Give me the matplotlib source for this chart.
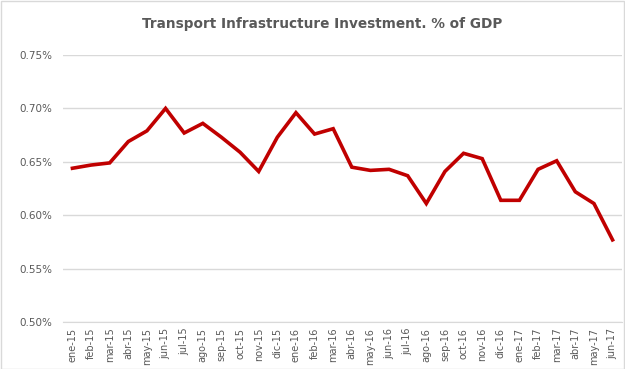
import matplotlib
matplotlib.use("Agg")
import matplotlib.pyplot as plt
from matplotlib.ticker import FuncFormatter

# datos
meses = ["ene-15", "feb-15", "mar-15", "abr-15", "may-15", "jun-15", "jul-15", "ago-15",
         "sep-15", "oct-15", "nov-15", "dic-15", "ene-16", "feb-16", "mar-16", "abr-16",
         "may-16", "jun-16", "jul-16", "ago-16", "sep-16", "oct-16", "nov-16", "dic-16",
         "ene-17", "feb-17", "mar-17", "abr-17", "may-17", "jun-17"]
inversion = [0.644, 0.647, 0.649, 0.669, 0.679, 0.700, 0.677, 0.686,
             0.673, 0.659, 0.641, 0.673, 0.696, 0.676, 0.681, 0.645,
             0.642, 0.643, 0.637, 0.611, 0.641, 0.658, 0.653, 0.614,
             0.614, 0.643, 0.651, 0.622, 0.611, 0.577]
y_ticks = [0.50, 0.55, 0.60, 0.65, 0.70, 0.75]

fig = plt.figure(figsize=(6.25, 3.69), dpi=100)
fig.patch.set_facecolor("white")
ax = fig.add_axes([0.101, 0.127, 0.894, 0.724])

x = list(range(len(meses)))
ax.plot(x, inversion, color="#C00000", linewidth=2.6, solid_joinstyle="miter")

ax.set_xlim(-0.5, len(meses) - 0.5)
ax.set_ylim(0.50, 0.75)
ax.set_yticks(y_ticks)
ax.yaxis.set_major_formatter(FuncFormatter(lambda v, p: f"{v:.2f}%"))
ax.set_xticks(x)
ax.set_xticklabels(meses, rotation=90)

ax.grid(axis="y", color="#D9D9D9", linewidth=1)
ax.set_axisbelow(True)
for s in ["top", "right", "left"]:
    ax.spines[s].set_visible(False)
ax.spines["bottom"].set_color("#D9D9D9")
ax.tick_params(axis="y", length=0, labelsize=7.5, labelcolor="#595959", pad=8)
ax.tick_params(axis="x", length=0, labelsize=7, labelcolor="#595959", pad=4)

fig.suptitle("Transport Infrastructure Investment. % of GDP", x=0.515, y=0.955,
             fontsize=9.8, fontweight="bold", color="#595959")

# borde
fig.add_artist(plt.Rectangle((0.001, 0.001), 0.997, 0.997, transform=fig.transFigure,
                             fill=False, edgecolor="#D9D9D9", linewidth=1))

fig.savefig("out.png", dpi=100)
plt.close()
